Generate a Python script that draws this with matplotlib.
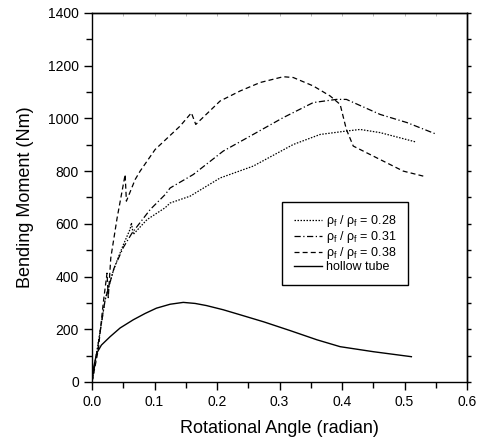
import numpy as np
import matplotlib
matplotlib.use("Agg")
from matplotlib import pyplot as plt
from matplotlib.ticker import MultipleLocator, NullFormatter

plt.rcParams['font.family'] = ['Liberation Sans', 'DejaVu Sans']
plt.rcParams['mathtext.default'] = 'regular'

# rho_f/rho_f = 0.28 (dotted)
x28 = [0.0, 0.008, 0.021, 0.035, 0.050, 0.061, 0.063, 0.066, 0.088, 0.117, 0.125, 0.157,
       0.205, 0.258, 0.322, 0.365, 0.407, 0.429, 0.461, 0.519]
y28 = [0, 120, 312, 430, 520, 580, 604, 560, 616, 661, 679, 705,
       774, 819, 901, 939, 952, 958, 946, 910]

# rho_f/rho_f = 0.31 (dash-dot)
x31 = [0.0, 0.008, 0.021, 0.035, 0.050, 0.064, 0.093, 0.117, 0.125, 0.162, 0.210, 0.248,
       0.306, 0.354, 0.391, 0.407, 0.461, 0.504, 0.552]
y31 = [0, 115, 312, 430, 510, 565, 654, 711, 736, 787, 876, 926,
       1003, 1060, 1072, 1072, 1015, 984, 939]

# rho_f/rho_f = 0.38 (dashed)
x38 = [0.0, 0.010, 0.018, 0.024, 0.026, 0.030, 0.040, 0.053, 0.055, 0.069, 0.077, 0.101,
       0.141, 0.159, 0.166, 0.205, 0.237, 0.269, 0.306, 0.322, 0.354, 0.381, 0.397,
       0.407, 0.418, 0.455, 0.498, 0.530]
y38 = [0, 122, 300, 413, 320, 470, 620, 787, 686, 768, 800, 882,
       971, 1021, 977, 1066, 1104, 1136, 1158, 1155, 1123, 1085, 1053,
       958, 895, 851, 800, 781]

# hollow tube (solid)
xh = [0.0, 0.003, 0.0075, 0.015, 0.029, 0.045, 0.066, 0.085, 0.103, 0.125, 0.146, 0.165,
      0.183, 0.21, 0.237, 0.275, 0.317, 0.36, 0.397, 0.45, 0.511]
yh = [0, 60, 109, 140, 172, 205, 236, 260, 280, 295, 302, 298,
      290, 274, 255, 228, 195, 160, 134, 115, 96]

labels = [r'$\rho_f$ / $\rho_f$ = 0.28', r'$\rho_f$ / $\rho_f$ = 0.31',
          r'$\rho_f$ / $\rho_f$ = 0.38', 'hollow tube']

fig = plt.figure(figsize=(4.78, 4.46), dpi=100)
ax = fig.add_axes([0.1925, 0.1435, 0.7845, 0.8275])

ax.plot(x28, y28, color='black', lw=0.9, linestyle=(0, (1.2, 1.2)), label=labels[0])
ax.plot(x31, y31, color='black', lw=0.9, linestyle=(0, (5, 2, 1, 2)), label=labels[1])
ax.plot(x38, y38, color='black', lw=0.9, linestyle=(0, (4, 2.5)), label=labels[2])
ax.plot(xh, yh, color='black', lw=1.0, linestyle='-', label=labels[3])

ax.set_xlim(0, 0.6)
ax.set_ylim(0, 1400)
ax.xaxis.set_major_locator(MultipleLocator(0.1))
ax.xaxis.set_minor_locator(MultipleLocator(0.05))
ax.yaxis.set_major_locator(MultipleLocator(200))
ax.yaxis.set_minor_locator(MultipleLocator(100))
ax.xaxis.set_major_formatter(plt.FormatStrFormatter('%.1f'))

ax.tick_params(which='major', direction='out', length=6, width=1, labelsize=10)
ax.tick_params(which='minor', direction='out', length=4, width=1)
for s in ax.spines.values():
    s.set_linewidth(1.0)

# right axis: short outward ticks
sy = ax.secondary_yaxis('right')
sy.yaxis.set_major_locator(MultipleLocator(200))
sy.yaxis.set_minor_locator(MultipleLocator(100))
sy.yaxis.set_major_formatter(NullFormatter())
sy.tick_params(which='both', direction='out', length=3, width=1)
sy.spines['right'].set_linewidth(1.0)

# top axis: faint inward ticks
sx = ax.secondary_xaxis('top')
sx.xaxis.set_major_locator(MultipleLocator(0.1))
sx.xaxis.set_minor_locator(MultipleLocator(0.05))
sx.xaxis.set_major_formatter(NullFormatter())
sx.tick_params(which='both', direction='in', length=2, width=0.6, color='#aaaaaa')
sx.spines['top'].set_linewidth(1.0)

ax.set_xlabel('Rotational Angle (radian)', fontsize=13, labelpad=8)
ax.set_ylabel('Bending Moment (Nm)', fontsize=13, labelpad=10)

leg = ax.legend(loc='upper left', bbox_to_anchor=(0.506, 0.489), fontsize=9,
                handlelength=2.3, handletextpad=0.3, labelspacing=0.0,
                borderpad=0.95, borderaxespad=0, fancybox=False,
                edgecolor='black', framealpha=1)
leg.get_frame().set_linewidth(1.0)

fig.savefig('out.png', dpi=100)
